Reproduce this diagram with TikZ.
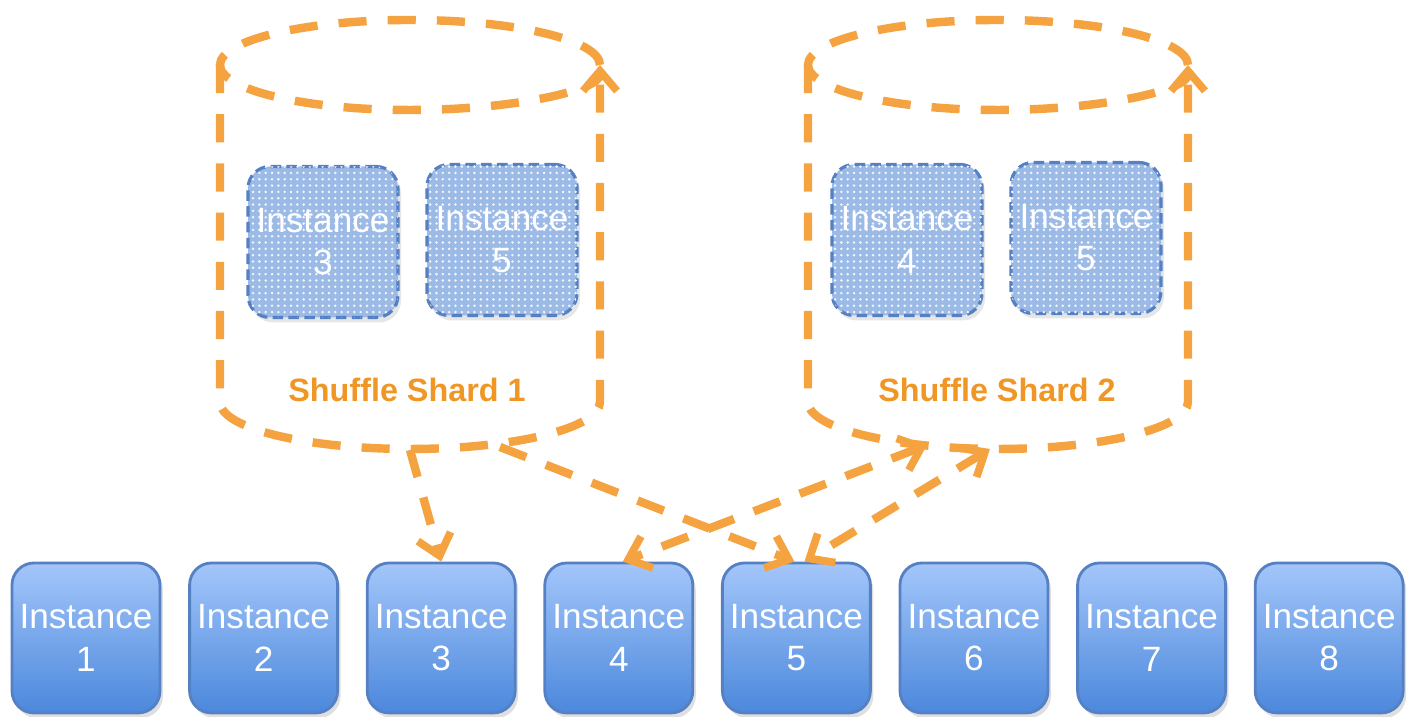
\documentclass[tikz,border=0pt]{standalone}
\usepackage{fontspec}
\setmainfont{Liberation Sans}
\usepackage{xcolor}
\usetikzlibrary{positioning,calc,arrows.meta,shadows,patterns.meta}

\definecolor{shardorange}{RGB}{244,163,64}
\definecolor{shardtext}{RGB}{240,150,36}
\definecolor{insttop}{RGB}{163,198,250}
\definecolor{instbot}{RGB}{76,136,220}
\definecolor{instline}{RGB}{86,128,196}
\definecolor{dotfill}{RGB}{156,186,230}

\tikzset{
    instance/.style={rounded corners=0.22cm, minimum width=1.48cm, minimum height=1.5cm,
        inner sep=0pt, align=center, draw=instline, line width=0.8pt,
        top color=insttop, bottom color=instbot, text=white,
        font=\fontsize{10}{12}\selectfont,
        drop shadow={opacity=0.25, shadow xshift=0.03cm, shadow yshift=-0.05cm}},
    shardinst/.style={rounded corners=0.22cm, minimum width=1.5cm, minimum height=1.51cm,
        inner sep=0pt, align=center, draw=instline, line width=0.9pt,
        dash pattern=on 3pt off 1.5pt, fill=dotfill, text=white,
        postaction={pattern={Dots[distance=1.8pt, radius=0.4pt]}, pattern color=white!85!dotfill},
        font=\fontsize{10}{12}\selectfont,
        drop shadow={opacity=0.2, shadow xshift=0.03cm, shadow yshift=-0.05cm}},
    shardline/.style={draw=shardorange, line width=2.4pt, dash pattern=on 8pt off 6pt},
    shardtip/.tip={Straight Barb[length=2mm, width=3.4mm, line width=2.2pt]},
    shardarrow/.style={shardline, -shardtip},
    shardlabel/.style={text=shardtext, font=\bfseries\fontsize{9.2}{11}\selectfont}
}

\begin{document}
\begin{tikzpicture}
    \useasboundingbox (0,0) rectangle (14.13,7.17);

    % Shuffle Shard 1
    \begin{scope}[xshift=4.10cm]
        \draw[shardline, -shardtip] (1.9,6.52) arc[start angle=0, end angle=360, x radius=1.9, y radius=0.45];
        \draw[shardline] (-1.9,6.52) -- (-1.9,3.15)
            arc[start angle=180, end angle=360, x radius=1.9, y radius=0.47] -- (1.9,6.52);
        \node[shardinst] (s1i3) at (-0.87,4.75) {Instance\\3};
        \node[shardinst] (s1i5) at (0.92,4.77) {Instance\\5};
        \node[shardlabel] (shard1) at (-0.03,3.27) {Shuffle Shard 1};
        \coordinate (s1a) at (0,2.67);
        \coordinate (s1b) at (0.90,2.70);
    \end{scope}

    % Shuffle Shard 2
    \begin{scope}[xshift=9.98cm]
        \draw[shardline, -shardtip] (1.9,6.52) arc[start angle=0, end angle=360, x radius=1.9, y radius=0.45];
        \draw[shardline] (-1.9,6.52) -- (-1.9,3.15)
            arc[start angle=180, end angle=360, x radius=1.9, y radius=0.47] -- (1.9,6.52);
        \node[shardinst] (s2i4) at (-0.91,4.77) {Instance\\4};
        \node[shardinst] (s2i5) at (0.88,4.79) {Instance\\5};
        \node[shardlabel] (shard2) at (-0.01,3.27) {Shuffle Shard 2};
        \coordinate (s2a) at (-0.71,2.72);
        \coordinate (s2b) at (-0.08,2.68);
    \end{scope}

    % Bottom row of instances
    \foreach \i in {1,...,8}
        \node[instance] (inst\i) at ({0.86+(\i-1)*1.776},0.79) {Instance\\\i};

    % Shard connections
    \draw[shardarrow] (s1a) -- (inst3.north);
    \draw[shardarrow] (s1b) -- ([xshift=-0.02cm]inst5.north);
    \draw[shardarrow, shardtip-shardtip] (s2a) -- ([xshift=0.04cm]inst4.north);
    \draw[shardarrow, shardtip-shardtip] (s2b) -- ([xshift=0.08cm]inst5.north);
\end{tikzpicture}
\end{document}
